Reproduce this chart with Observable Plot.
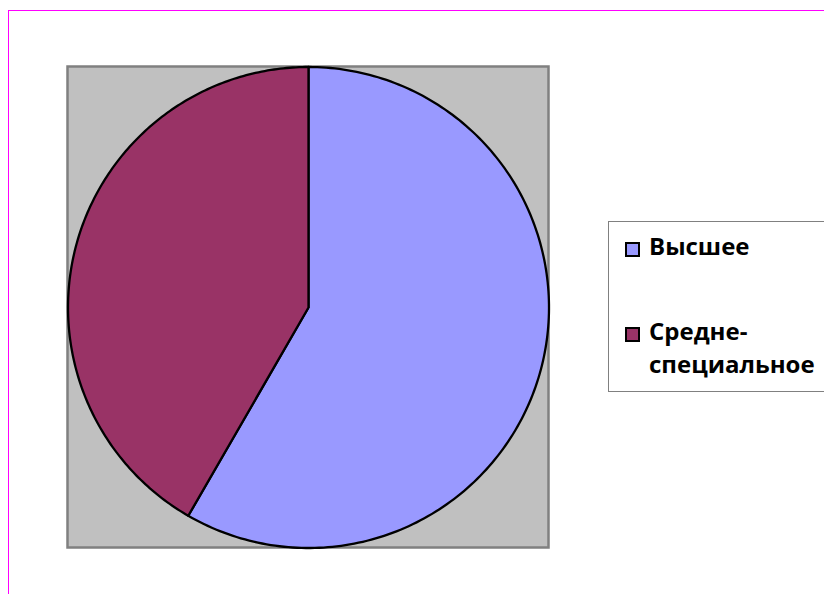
<!DOCTYPE html>
<html>
<head>
<meta charset="utf-8">
<script src="https://cdn.jsdelivr.net/npm/d3@7"></script>
<script src="https://cdn.jsdelivr.net/npm/@observablehq/plot@0.6"></script>
<style>
  html, body { margin: 0; padding: 0; background: #fff; }
  #wrap { position: relative; width: 824px; height: 594px; overflow: hidden; }
  #frame { position: absolute; left: 8px; top: 10px; width: 900px; height: 700px;
           border-left: 1.5px solid #FF00FF; border-top: 1.5px solid #FF00FF; }
  #chart { position: absolute; left: 0; top: 0; }
  #legend { position: absolute; left: 608px; top: 221px; width: 260px; height: 171px;
            background: #fff; border: 1px solid #808080; box-sizing: border-box;
            font-family: "Open Sans", Lato, sans-serif; font-weight: bold; font-size: 24px; color: #000; }
  .item { position: absolute; left: 16px; display: flex; align-items: flex-start; }
  .sw { width: 11px; height: 11px; border: 2px solid #000; margin-top: 6px; margin-right: 9px; flex: none; }
  .lbl { line-height: 33px; margin-top: -7px; }
</style>
</head>
<body>
<div id="wrap">
  <div id="frame"></div>
  <div id="chart"></div>
  <div id="legend"></div>
</div>
<script>
const categories = ["Высшее", "Средне-специальное"];
const legendLabels = ["Высшее", "Средне-<br>специальное"];
const values = [7, 5];
const colors = ["#9999FF", "#993366"];

const pie = d3.pie().sort(null).value(d => d.value)(
  categories.map((c, i) => ({category: c, value: values[i]}))
);

// build slice outlines (unit circle, angle clockwise from 12 o'clock)
const pts = [];
for (const a of pie) {
  const c = a.data.category;
  pts.push({category: c, x: 0, y: 0});
  const n = 200;
  for (let k = 0; k <= n; k++) {
    const t = a.startAngle + (a.endAngle - a.startAngle) * k / n;
    pts.push({category: c, x: Math.sin(t), y: Math.cos(t)});
  }
  pts.push({category: c, x: 0, y: 0});
}

const plot = Plot.plot({
  width: 824,
  height: 594,
  margin: 0,
  x: {domain: [-1, 1], range: [67.5, 548.5], axis: null},
  y: {domain: [-1, 1], range: [547.5, 66.5], axis: null},
  color: {domain: categories, range: colors},
  marks: [
    Plot.rect([{x1: -1, x2: 1, y1: -1, y2: 1}], {
      x1: "x1", x2: "x2", y1: "y1", y2: "y2",
      fill: "#C0C0C0", stroke: "#808080", strokeWidth: 2.5
    }),
    Plot.line(pts, {
      x: "x", y: "y", z: "category", fill: "category",
      stroke: "#000", strokeWidth: 2.3, strokeLinejoin: "round", curve: "linear"
    })
  ]
});
plot.style.background = "transparent";
document.getElementById("chart").appendChild(plot);

const legend = document.getElementById("legend");
const tops = [14, 99];
categories.forEach((c, i) => {
  const it = document.createElement("div");
  it.className = "item";
  it.style.top = tops[i] + "px";
  it.innerHTML = `<div class="sw" style="background:${colors[i]}"></div><div class="lbl">${legendLabels[i]}</div>`;
  legend.appendChild(it);
});
</script>
</body>
</html>
